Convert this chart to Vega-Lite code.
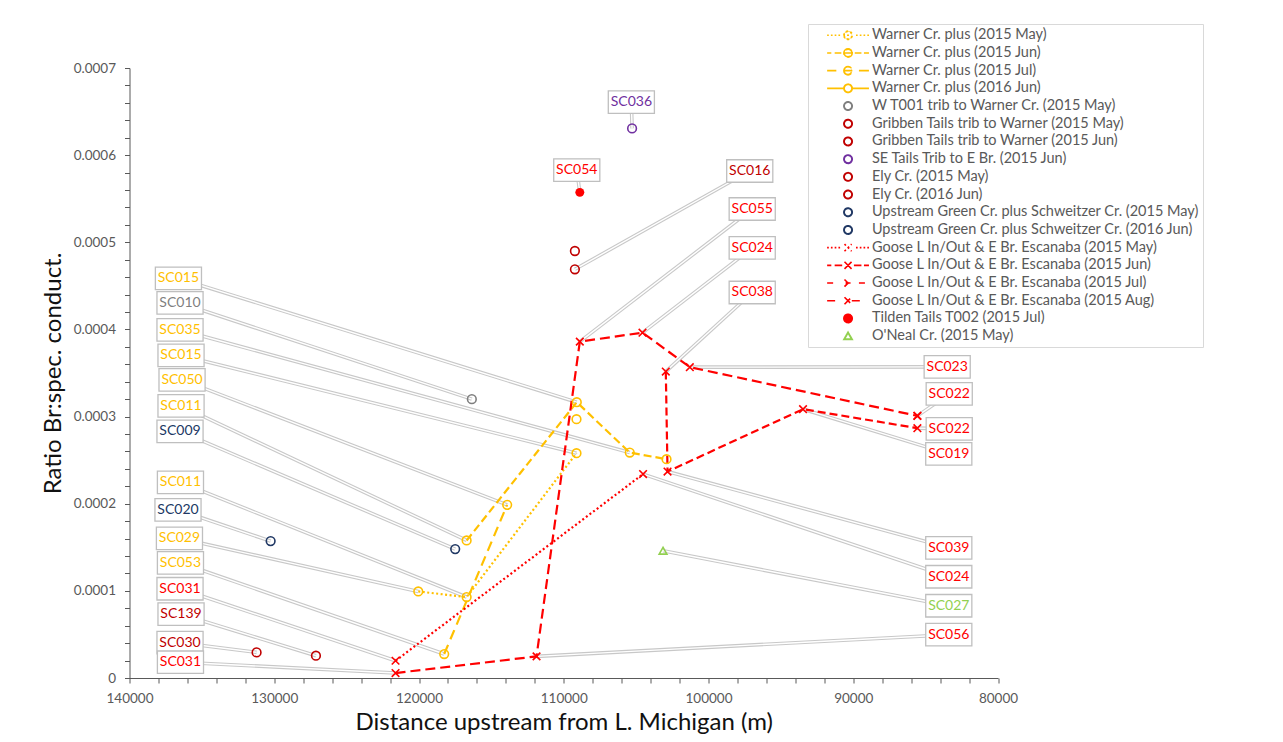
{
  "$schema": "https://vega.github.io/schema/vega-lite/v6.json",
  "width": 868.5,
  "height": 610,
  "autosize": "none",
  "padding": {"left": 129.5, "top": 68, "right": 285, "bottom": 64},
  "background": "white",
  "config": {"view": {"stroke": null}, "font": "Lato"},
  "data": {
    "values": [
      {"s": "Warner Cr. plus (2015 May)", "x": 120050, "y": 0.0000993, "lab": "SC029", "lx": 136550, "ly": 0.0001603},
      {"s": "Warner Cr. plus (2015 May)", "x": 116710, "y": 0.0000929, "lab": "SC011", "lx": 136480, "ly": 0.0002245},
      {"s": "Warner Cr. plus (2015 May)", "x": 109120, "y": 0.000258, "lab": "SC015", "lx": 136440, "ly": 0.0003702},
      {"s": "Warner Cr. plus (2015 Jun)", "x": 116710, "y": 0.0001578, "lab": "SC011", "lx": 136440, "ly": 0.0003123},
      {"s": "Warner Cr. plus (2015 Jun)", "x": 109100, "y": 0.0003165, "lab": "SC015", "lx": 136620, "ly": 0.0004585},
      {"s": "Warner Cr. plus (2015 Jun)", "x": 105440, "y": 0.0002587, "lab": "SC035", "lx": 136510, "ly": 0.0003994},
      {"s": "Warner Cr. plus (2015 Jun)", "x": 102900, "y": 0.0002511},
      {"s": "Warner Cr. plus (2015 Jul)", "x": 118260, "y": 0.0000275, "lab": "SC053", "lx": 136480, "ly": 0.0001322},
      {"s": "Warner Cr. plus (2015 Jul)", "x": 113910, "y": 0.0001987, "lab": "SC050", "lx": 136370, "ly": 0.0003421},
      {"s": "Warner Cr. plus (2016 Jun)", "x": 109120, "y": 0.000297},
      {"s": "W T001 trib to Warner Cr. (2015 May)", "x": 116350, "y": 0.00032, "lab": "SC010", "lx": 136510, "ly": 0.0004304},
      {"s": "Gribben Tails trib to Warner (2015 May)", "x": 131220, "y": 0.0000294, "lab": "SC030", "lx": 136510, "ly": 0.0000405},
      {"s": "Gribben Tails trib to Warner (2015 Jun)", "x": 127120, "y": 0.0000256, "lab": "SC139", "lx": 136440, "ly": 0.0000732},
      {"s": "SE Tails Trib to E Br. (2015 Jun)", "x": 105280, "y": 0.0006307, "lab": "SC036", "lx": 105330, "ly": 0.0006609},
      {"s": "Ely Cr. (2015 May)", "x": 109230, "y": 0.00049},
      {"s": "Ely Cr. (2016 Jun)", "x": 109230, "y": 0.000469, "lab": "SC016", "lx": 97150, "ly": 0.0005818},
      {"s": "Upstream Green Cr. plus Schweitzer Cr. (2015 May)", "x": 130250, "y": 0.0001571, "lab": "SC020", "lx": 136650, "ly": 0.000193},
      {"s": "Upstream Green Cr. plus Schweitzer Cr. (2016 Jun)", "x": 117500, "y": 0.0001479, "lab": "SC009", "lx": 136510, "ly": 0.000283},
      {"s": "Goose L In/Out & E Br. Escanaba (2015 May)", "x": 121620, "y": 0.0000198, "lab": "SC031", "lx": 136510, "ly": 0.0001024},
      {"s": "Goose L In/Out & E Br. Escanaba (2015 May)", "x": 104520, "y": 0.000234, "lab": "SC024", "lx": 83400, "ly": 0.0001162},
      {"s": "Goose L In/Out & E Br. Escanaba (2015 Jun)", "x": 121620, "y": 0.0000057, "lab": "SC031", "lx": 136480, "ly": 0.0000181},
      {"s": "Goose L In/Out & E Br. Escanaba (2015 Jun)", "x": 111880, "y": 0.0000248, "lab": "SC056", "lx": 83400, "ly": 0.0000497},
      {"s": "Goose L In/Out & E Br. Escanaba (2015 Jun)", "x": 108890, "y": 0.000386, "lab": "SC055", "lx": 96980, "ly": 0.0005382},
      {"s": "Goose L In/Out & E Br. Escanaba (2015 Jun)", "x": 104560, "y": 0.0003963, "lab": "SC024", "lx": 96980, "ly": 0.0004935},
      {"s": "Goose L In/Out & E Br. Escanaba (2015 Jun)", "x": 101290, "y": 0.0003567, "lab": "SC023", "lx": 83510, "ly": 0.000357},
      {"s": "Goose L In/Out & E Br. Escanaba (2015 Jun)", "x": 85570, "y": 0.0003008, "lab": "SC022", "lx": 83370, "ly": 0.000326},
      {"s": "Goose L In/Out & E Br. Escanaba (2015 Jul)", "x": 85570, "y": 0.0003008},
      {"s": "Goose L In/Out & E Br. Escanaba (2015 Aug)", "x": 102950, "y": 0.0003516, "lab": "SC038", "lx": 96980, "ly": 0.0004424},
      {"s": "Goose L In/Out & E Br. Escanaba (2015 Aug)", "x": 102830, "y": 0.0002369, "lab": "SC039", "lx": 83400, "ly": 0.0001494},
      {"s": "Goose L In/Out & E Br. Escanaba (2015 Aug)", "x": 93470, "y": 0.0003085, "lab": "SC019", "lx": 83400, "ly": 0.0002572},
      {"s": "Goose L In/Out & E Br. Escanaba (2015 Aug)", "x": 85570, "y": 0.0002867, "lab": "SC022", "lx": 83370, "ly": 0.0002859},
      {"s": "Tilden Tails T002 (2015 Jul)", "x": 108890, "y": 0.0005573, "lab": "SC054", "lx": 109100, "ly": 0.0005829},
      {"s": "O'Neal Cr. (2015 May)", "x": 103140, "y": 0.000146, "lab": "SC027", "lx": 83400, "ly": 0.0000829}
    ]
  },
  "layer": [
    {
      "transform": [{"filter": "datum.lab"}],
      "mark": {"type": "rule", "color": "#c8c8c8", "strokeWidth": 3.6},
      "encoding": {
        "x": {
          "field": "x", "type": "quantitative",
          "scale": {"domain": [80000, 140000], "reverse": true, "nice": false, "zero": false},
          "axis": {
            "title": "Distance upstream from L. Michigan (m)",
            "values": [80000, 82000, 84000, 86000, 88000, 90000, 92000, 94000, 96000, 98000, 100000, 102000, 104000, 106000, 108000, 110000, 112000, 114000, 116000, 118000, 120000, 122000, 124000, 126000, 128000, 130000, 132000, 134000, 136000, 138000, 140000],
            "tickCount": 100,
            "labelExpr": "datum.value % 10000 === 0 ? '' + datum.value : ''",
            "grid": false, "domainColor": "#595959", "tickColor": "#595959", "tickSize": 5,
            "labelFont": "Lato", "labelFontSize": 13.5, "labelColor": "#595959", "labelPadding": 8,
            "labelOverlap": false, "labelFlush": false,
            "titleFont": "Lato", "titleFontSize": 24, "titleFontWeight": "normal", "titleColor": "#111111", "titlePadding": 6
          }
        },
        "x2": {"field": "lx"},
        "y": {
          "field": "y", "type": "quantitative",
          "scale": {"domain": [0, 0.0007], "nice": false, "zero": true},
          "axis": {
            "title": "Ratio Br:spec. conduct.",
            "values": [0, 0.00002, 0.00004, 0.00006, 0.00008, 0.0001, 0.00012, 0.00014, 0.00016, 0.00018, 0.0002, 0.00022, 0.00024, 0.00026, 0.00028, 0.0003, 0.00032, 0.00034, 0.00036, 0.00038, 0.0004, 0.00042, 0.00044, 0.00046, 0.00048, 0.0005, 0.00052, 0.00054, 0.00056, 0.00058, 0.0006, 0.00062, 0.00064, 0.00066, 0.00068, 0.0007],
            "tickCount": 100,
            "labelExpr": "round(datum.value * 100000) % 10 === 0 ? (datum.value === 0 ? '0' : format(datum.value, '.4f')) : ''",
            "grid": false, "domainColor": "#595959", "tickColor": "#595959", "tickSize": 5,
            "labelFont": "Lato", "labelFontSize": 13.5, "labelColor": "#595959", "labelPadding": 9,
            "labelOverlap": false, "labelFlush": false,
            "titleFont": "Lato", "titleFontSize": 24, "titleFontWeight": "normal", "titleColor": "#111111", "titlePadding": 8
          }
        },
        "y2": {"field": "ly"}
      }
    },
    {
      "transform": [{"filter": "datum.lab"}],
      "mark": {"type": "rule", "color": "#ffffff", "strokeWidth": 1.4},
      "encoding": {
        "x": {"field": "x", "type": "quantitative"},
        "x2": {"field": "lx"},
        "y": {"field": "y", "type": "quantitative"},
        "y2": {"field": "ly"}
      }
    },
    {
      "transform": [{"filter": "false"}],
      "mark": {"type": "point", "filled": false, "opacity": 1, "strokeWidth": 1.6},
      "encoding": {
        "x": {"field": "x", "type": "quantitative"},
        "y": {"field": "y", "type": "quantitative"},
        "color": {
          "field": "s", "type": "nominal",
          "scale": {
            "domain": ["Warner Cr. plus (2015 May)", "Warner Cr. plus (2015 Jun)", "Warner Cr. plus (2015 Jul)", "Warner Cr. plus (2016 Jun)", "W T001 trib to Warner Cr. (2015 May)", "Gribben Tails trib to Warner (2015 May)", "Gribben Tails trib to Warner (2015 Jun)", "SE Tails Trib to E Br. (2015 Jun)", "Ely Cr. (2015 May)", "Ely Cr. (2016 Jun)", "Upstream Green Cr. plus Schweitzer Cr. (2015 May)", "Upstream Green Cr. plus Schweitzer Cr. (2016 Jun)", "Goose L In/Out & E Br. Escanaba (2015 May)", "Goose L In/Out & E Br. Escanaba (2015 Jun)", "Goose L In/Out & E Br. Escanaba (2015 Jul)", "Goose L In/Out & E Br. Escanaba (2015 Aug)", "Tilden Tails T002 (2015 Jul)", "O'Neal Cr. (2015 May)"],
            "range": ["#FFC000", "#FFC000", "#FFC000", "#FFC000", "#7F7F7F", "#C00000", "#C00000", "#7030A0", "#C00000", "#C00000", "#203864", "#203864", "#FF0000", "#FF0000", "#FF0000", "#FF0000", "#FF0000", "#92D050"]
          },
          "legend": {
            "orient": "none", "legendX": 678.5, "legendY": -44, "title": null,
            "labelFont": "Lato", "labelFontSize": 14.5, "labelColor": "#595959", "labelLimit": 400,
            "symbolSize": 70, "symbolStrokeWidth": 1.6, "symbolOffset": 28.8, "labelOffset": 16.6, "rowPadding": 1.7,
            "padding": 4, "strokeColor": "#d9d9d9", "fillColor": "white"
          }
        },
        "shape": {
          "field": "s", "type": "nominal",
          "scale": {
            "domain": ["Warner Cr. plus (2015 May)", "Warner Cr. plus (2015 Jun)", "Warner Cr. plus (2015 Jul)", "Warner Cr. plus (2016 Jun)", "W T001 trib to Warner Cr. (2015 May)", "Gribben Tails trib to Warner (2015 May)", "Gribben Tails trib to Warner (2015 Jun)", "SE Tails Trib to E Br. (2015 Jun)", "Ely Cr. (2015 May)", "Ely Cr. (2016 Jun)", "Upstream Green Cr. plus Schweitzer Cr. (2015 May)", "Upstream Green Cr. plus Schweitzer Cr. (2016 Jun)", "Goose L In/Out & E Br. Escanaba (2015 May)", "Goose L In/Out & E Br. Escanaba (2015 Jun)", "Goose L In/Out & E Br. Escanaba (2015 Jul)", "Goose L In/Out & E Br. Escanaba (2015 Aug)", "Tilden Tails T002 (2015 Jul)", "O'Neal Cr. (2015 May)"],
            "range": [
              "M-5,0H-4.6M-4.1,0H-3.7M-3.2,0H-2.8M-2.3,0H-1.9M1.9,0H2.3M2.8,0H3.2M3.7,0H4.1M4.6,0H5M-0.25,0H0.25M-1,0A1 1 0 1 1 1,0A1 1 0 1 1 -1,0ZM-0.92,0A0.92 0.92 0 1 0 0.92,0A0.92 0.92 0 1 0 -0.92,0Z",
              "M-5,0H-4M-3.2,0H-1.6M1.6,0H3.2M3.8,0H5M-1,0H1M-1,0A1 1 0 1 1 1,0A1 1 0 1 1 -1,0ZM-0.92,0A0.92 0.92 0 1 0 0.92,0A0.92 0.92 0 1 0 -0.92,0Z",
              "M-5,0H-2.8M2.6,0H5M-1,0H1M-1,0A1 1 0 1 1 1,0A1 1 0 1 1 -1,0ZM-0.92,0A0.92 0.92 0 1 0 0.92,0A0.92 0.92 0 1 0 -0.92,0Z",
              "M-5,0H-1M1,0H5M-1,0A1 1 0 1 1 1,0A1 1 0 1 1 -1,0ZM-0.92,0A0.92 0.92 0 1 0 0.92,0A0.92 0.92 0 1 0 -0.92,0Z",
              "M-1,0A1 1 0 1 1 1,0A1 1 0 1 1 -1,0ZM-0.92,0A0.92 0.92 0 1 0 0.92,0A0.92 0.92 0 1 0 -0.92,0Z",
              "M-1,0A1 1 0 1 1 1,0A1 1 0 1 1 -1,0ZM-0.92,0A0.92 0.92 0 1 0 0.92,0A0.92 0.92 0 1 0 -0.92,0Z",
              "M-1,0A1 1 0 1 1 1,0A1 1 0 1 1 -1,0ZM-0.92,0A0.92 0.92 0 1 0 0.92,0A0.92 0.92 0 1 0 -0.92,0Z",
              "M-1,0A1 1 0 1 1 1,0A1 1 0 1 1 -1,0ZM-0.92,0A0.92 0.92 0 1 0 0.92,0A0.92 0.92 0 1 0 -0.92,0Z",
              "M-1,0A1 1 0 1 1 1,0A1 1 0 1 1 -1,0ZM-0.92,0A0.92 0.92 0 1 0 0.92,0A0.92 0.92 0 1 0 -0.92,0Z",
              "M-1,0A1 1 0 1 1 1,0A1 1 0 1 1 -1,0ZM-0.92,0A0.92 0.92 0 1 0 0.92,0A0.92 0.92 0 1 0 -0.92,0Z",
              "M-1,0A1 1 0 1 1 1,0A1 1 0 1 1 -1,0ZM-0.92,0A0.92 0.92 0 1 0 0.92,0A0.92 0.92 0 1 0 -0.92,0Z",
              "M-1,0A1 1 0 1 1 1,0A1 1 0 1 1 -1,0ZM-0.92,0A0.92 0.92 0 1 0 0.92,0A0.92 0.92 0 1 0 -0.92,0Z",
              "M-5,0H-4.6M-4.1,0H-3.7M-3.2,0H-2.8M-2.3,0H-1.9M1.9,0H2.3M2.8,0H3.2M3.7,0H4.1M4.6,0H5M-0.85,-0.85L0.85,0.85M-0.85,0.85L0.85,-0.85",
              "M-5,0H-4M-3.2,0H-1.4M1.4,0H3.2M3.8,0H5M-0.85,-0.85L0.85,0.85M-0.85,0.85L0.85,-0.85",
              "M-5,0H-2.8M2.6,0H5M-0.6,0H0.6M-0.85,-0.85L0.85,0.85M-0.85,0.85L0.85,-0.85",
              "M-5,0H-2.8M0.9,0H3M-0.85,-0.85L0.85,0.85M-0.85,0.85L0.85,-0.85",
              "M-1,0A1 1 0 1 1 1,0A1 1 0 1 1 -1,0Z",
              "M0,-0.95L1,0.8L-1,0.8ZM0,-0.8L-0.85,0.68L0.85,0.68Z"
            ]
          },
          "legend": {
            "orient": "none", "legendX": 678.5, "legendY": -44, "title": null,
            "labelFont": "Lato", "labelFontSize": 14.5, "labelColor": "#595959", "labelLimit": 400,
            "symbolSize": 70, "symbolStrokeWidth": 1.6, "symbolOffset": 28.8, "labelOffset": 16.6, "rowPadding": 1.7,
            "padding": 4, "strokeColor": "#d9d9d9", "fillColor": "white"
          }
        }
      }
    },
    {
      "mark": {"type": "line", "strokeWidth": 2.2},
      "encoding": {
        "x": {"field": "x", "type": "quantitative"},
        "y": {"field": "y", "type": "quantitative"},
        "order": {"field": "x", "sort": "descending"},
        "color": {"field": "s", "type": "nominal", "legend": null},
        "strokeDash": {
          "field": "s", "type": "nominal", "legend": null,
          "scale": {
            "domain": ["Warner Cr. plus (2015 May)", "Warner Cr. plus (2015 Jun)", "Warner Cr. plus (2015 Jul)", "Warner Cr. plus (2016 Jun)", "W T001 trib to Warner Cr. (2015 May)", "Gribben Tails trib to Warner (2015 May)", "Gribben Tails trib to Warner (2015 Jun)", "SE Tails Trib to E Br. (2015 Jun)", "Ely Cr. (2015 May)", "Ely Cr. (2016 Jun)", "Upstream Green Cr. plus Schweitzer Cr. (2015 May)", "Upstream Green Cr. plus Schweitzer Cr. (2016 Jun)", "Goose L In/Out & E Br. Escanaba (2015 May)", "Goose L In/Out & E Br. Escanaba (2015 Jun)", "Goose L In/Out & E Br. Escanaba (2015 Jul)", "Goose L In/Out & E Br. Escanaba (2015 Aug)", "Tilden Tails T002 (2015 Jul)", "O'Neal Cr. (2015 May)"],
            "range": [[2, 2.5], [8, 4], [10, 6], [1, 0], [1, 0], [1, 0], [1, 0], [1, 0], [1, 0], [1, 0], [1, 0], [1, 0], [2, 2.5], [10, 5], [6, 6], [8, 4], [1, 0], [1, 0]]
          }
        }
      }
    },
    {
      "transform": [{"filter": "indexof(datum.s, 'Goose') < 0 && indexof(datum.s, 'Tilden') < 0 && indexof(datum.s, 'Neal') < 0"}],
      "mark": {"type": "point", "shape": "circle", "filled": false, "strokeWidth": 1.6, "opacity": 1, "size": 75},
      "encoding": {
        "x": {"field": "x", "type": "quantitative"},
        "y": {"field": "y", "type": "quantitative"},
        "color": {"field": "s", "type": "nominal", "legend": null}
      }
    },
    {
      "transform": [{"filter": "indexof(datum.s, 'Goose') >= 0"}],
      "mark": {"type": "point", "shape": "M-0.85,-0.85L0.85,0.85M-0.85,0.85L0.85,-0.85", "filled": false, "strokeWidth": 1.6, "opacity": 1, "size": 80},
      "encoding": {
        "x": {"field": "x", "type": "quantitative"},
        "y": {"field": "y", "type": "quantitative"},
        "color": {"field": "s", "type": "nominal", "legend": null}
      }
    },
    {
      "transform": [{"filter": "indexof(datum.s, 'Neal') >= 0"}],
      "mark": {"type": "point", "shape": "triangle-up", "filled": false, "strokeWidth": 1.6, "opacity": 1, "size": 60},
      "encoding": {
        "x": {"field": "x", "type": "quantitative"},
        "y": {"field": "y", "type": "quantitative"},
        "color": {"field": "s", "type": "nominal", "legend": null}
      }
    },
    {
      "transform": [{"filter": "indexof(datum.s, 'Tilden') >= 0"}],
      "mark": {"type": "point", "shape": "circle", "filled": true, "size": 80, "opacity": 1},
      "encoding": {
        "x": {"field": "x", "type": "quantitative"},
        "y": {"field": "y", "type": "quantitative"},
        "color": {"field": "s", "type": "nominal", "legend": null}
      }
    },
    {
      "transform": [{"filter": "datum.lab"}],
      "mark": {"type": "point", "shape": "M-2.05,-1H2.05V1H-2.05Z", "size": 506, "filled": true, "fill": "white", "stroke": "#bfbfbf", "strokeWidth": 1.3, "opacity": 1},
      "encoding": {
        "x": {"field": "lx", "type": "quantitative"},
        "y": {"field": "ly", "type": "quantitative"}
      }
    },
    {
      "transform": [{"filter": "datum.lab"}],
      "mark": {"type": "text", "font": "Lato", "fontSize": 14, "align": "center", "baseline": "middle"},
      "encoding": {
        "x": {"field": "lx", "type": "quantitative"},
        "y": {"field": "ly", "type": "quantitative"},
        "text": {"field": "lab"},
        "color": {"field": "s", "type": "nominal", "legend": null}
      }
    }
  ]
}
